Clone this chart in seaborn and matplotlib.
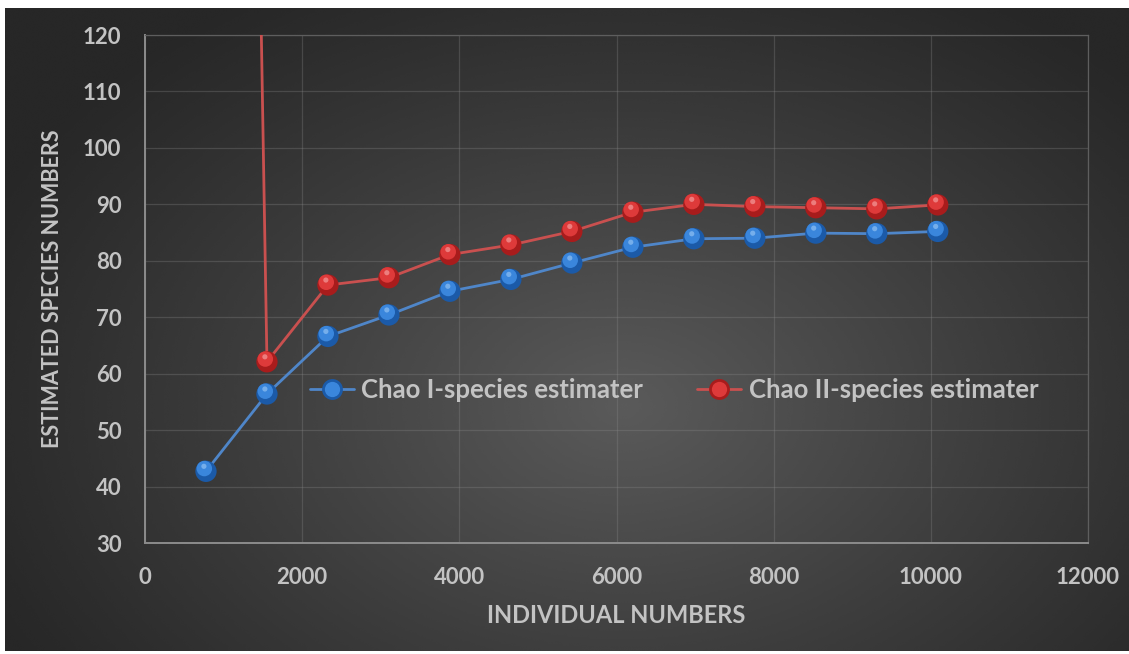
import numpy as np
import pandas as pd
import matplotlib
matplotlib.use("Agg")
import matplotlib.pyplot as plt
import matplotlib.transforms as mtransforms
from matplotlib.lines import Line2D
from matplotlib.legend_handler import HandlerTuple
import seaborn as sns

# Sampling effort (individuals) and the two richness estimators
individuals = [776, 1552, 2328, 3104, 3880, 4656, 5432, 6208, 6984, 7760, 8536, 9312, 10088]
chao1 = [42.7, 56.4, 66.6, 70.4, 74.6, 76.7, 79.6, 82.4, 83.9, 84.0, 84.9, 84.8, 85.2]
chao2 = [690.0, 62.1, 75.7, 77.0, 81.1, 82.8, 85.2, 88.6, 90.0, 89.6, 89.4, 89.2, 89.9]
series_names = ["Chao I-species estimater", "Chao II-species estimater"]
x_ticks = [0, 2000, 4000, 6000, 8000, 10000, 12000]
y_ticks = [30, 40, 50, 60, 70, 80, 90, 100, 110, 120]

df = pd.DataFrame({
    "individuals": individuals * 2,
    "estimate": chao1 + chao2,
    "series": [series_names[0]] * len(chao1) + [series_names[1]] * len(chao2),
})

sns.set_style("dark")
plt.rcParams["font.family"] = ["Lato", "DejaVu Sans"]

TEXT = "#c3c3c3"
line_colors = {series_names[0]: "#4f86c9", series_names[1]: "#c9504f"}
ball_dark = {series_names[0]: "#1b5aa8", series_names[1]: "#a81c1c"}
ball_mid = {series_names[0]: "#3a86dc", series_names[1]: "#de3a3a"}
ball_hi = {series_names[0]: "#8fc0f2", series_names[1]: "#f29a9a"}

W, H = 1129, 654
fig = plt.figure(figsize=(W / 100, H / 100), dpi=100, facecolor="white")

# Dark radial-gradient panel behind the chart
bg = fig.add_axes([5 / W, 3 / H, (W - 5) / W, (H - 11) / H], zorder=-10)
gx, gy = np.meshgrid(np.linspace(0, 1, 400), np.linspace(0, 1, 300))
r = np.sqrt(((gx - 0.55) / 0.62) ** 2 + ((gy - 0.38) / 0.75) ** 2)
shade = 0.155 + 0.20 * np.clip(1 - r, 0, 1) ** 1.1
bg.imshow(shade, cmap="gray", vmin=0, vmax=1, origin="lower",
          extent=[0, 1, 0, 1], aspect="auto", interpolation="bicubic")
bg.set_axis_off()

ax = fig.add_axes([145 / W, 1 - 543 / H, (1088 - 145) / W, (543 - 35) / H])
ax.set_facecolor("none")

sns.lineplot(data=df, x="individuals", y="estimate", hue="series",
             palette=line_colors, linewidth=2.0, legend=False, ax=ax,
             sort=False, zorder=3)

up = mtransforms.offset_copy(ax.transData, fig=fig, x=-1.2, y=2.0, units="points")
up2 = mtransforms.offset_copy(ax.transData, fig=fig, x=-1.5, y=3.6, units="points")
for name in series_names:
    sub = df[df["series"] == name]
    sns.scatterplot(data=sub, x="individuals", y="estimate", color=ball_dark[name],
                    s=235, edgecolor="none", legend=False, ax=ax, zorder=4)
    sns.scatterplot(data=sub, x="individuals", y="estimate", color=ball_mid[name],
                    s=125, edgecolor="none", legend=False, ax=ax, zorder=5,
                    transform=up)
    sns.scatterplot(data=sub, x="individuals", y="estimate", color=ball_hi[name],
                    s=14, edgecolor="none", legend=False, ax=ax, zorder=6,
                    transform=up2, alpha=0.7)

ax.set_xlim(0, 12000)
ax.set_ylim(30, 120)
ax.set_xticks(x_ticks)
ax.set_yticks(y_ticks)
ax.set_xticklabels([str(t) for t in x_ticks])
ax.set_yticklabels([str(t) for t in y_ticks])
ax.tick_params(axis="both", length=0, colors=TEXT, labelsize=16)
ax.tick_params(axis="x", pad=17)
ax.tick_params(axis="y", pad=17)
for lab in ax.get_xticklabels() + ax.get_yticklabels():
    lab.set_fontweight("bold")

ax.grid(True, color="#8a8a8a", alpha=0.3, linewidth=0.9)
for side in ["top", "right"]:
    ax.spines[side].set_visible(True)
    ax.spines[side].set_color("#5e5e5e")
    ax.spines[side].set_linewidth(0.9)
for side in ["left", "bottom"]:
    ax.spines[side].set_visible(True)
    ax.spines[side].set_color("#8c8c8c")
    ax.spines[side].set_linewidth(1.4)

ax.set_xlabel("INDIVIDUAL NUMBERS", color=TEXT, fontsize=17, fontweight="bold",
              labelpad=12)
ax.set_ylabel("ESTIMATED SPECIES NUMBERS", color=TEXT, fontsize=15.5,
              fontweight="bold", labelpad=14)

handles = []
for name in series_names:
    base = Line2D([], [], color=line_colors[name], linewidth=2.0, marker="o",
                  markersize=15, markerfacecolor=ball_dark[name],
                  markeredgecolor="none")
    mid = Line2D([], [], linestyle="none", marker="o", markersize=11,
                 markerfacecolor=ball_mid[name], markeredgecolor="none")
    handles.append((base, mid))

leg = ax.legend(handles, series_names, handler_map={tuple: HandlerTuple(ndivide=1)},
                ncol=2, loc="center", bbox_to_anchor=(0.561, 0.301),
                frameon=False, fontsize=18.5, handlelength=1.7, handletextpad=0.3,
                columnspacing=2.1)
for t in leg.get_texts():
    t.set_color(TEXT)
    t.set_fontweight("bold")

fig.savefig("out.png", dpi=100, facecolor="white")
